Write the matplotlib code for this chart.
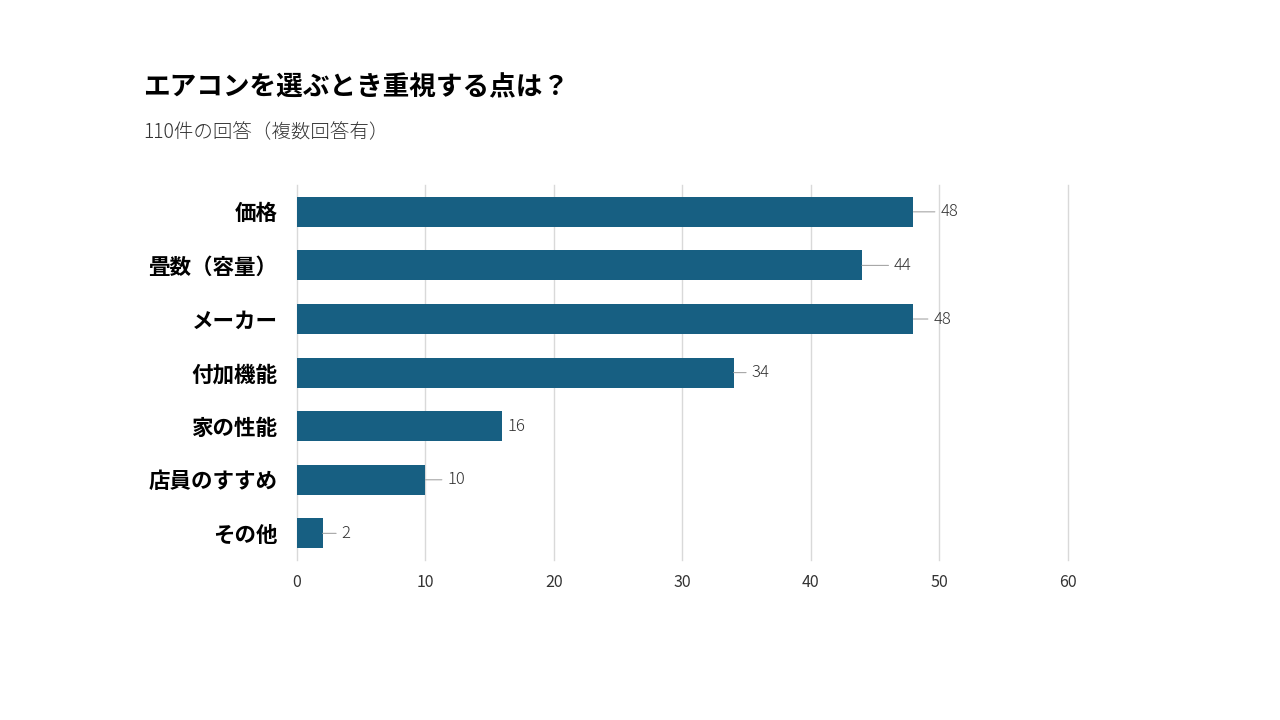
import matplotlib
matplotlib.use("Agg")
import matplotlib.pyplot as plt

plt.rcParams['font.family'] = ['Noto Sans CJK JP', 'DejaVu Sans']

categories = ["価格", "畳数（容量）", "メーカー", "付加機能", "家の性能", "店員のすすめ", "その他"]
values = [48, 44, 48, 34, 16, 10, 2]
xticks = [0, 10, 20, 30, 40, 50, 60]
# label offsets (pixels) from bar end, matching manually placed labels
label_offsets = [27, 32, 20, 18, 5, 22, 19]

title = "エアコンを選ぶとき重視する点は？"
subtitle = "110件の回答（複数回答有）"

bar_color = "#175F82"

fig = plt.figure(figsize=(12.8, 7.2), dpi=100)
ax = fig.add_axes([0.232, 0.222, 0.602, 0.521])

y = list(range(len(categories)))
ax.barh(y, values, height=0.56, color=bar_color, zorder=3)
ax.set_ylim(len(categories) - 0.5, -0.5)
ax.set_xlim(0, 60)
ax.set_xticks(xticks)
ax.set_xticklabels([str(t) for t in xticks], fontsize=11.5, color="#333333")
ax.set_yticks(y)
ax.set_yticklabels(categories, fontsize=15.5, fontweight="bold", color="#000000")
ax.tick_params(axis="y", length=0, pad=14)
ax.tick_params(axis="x", length=0, pad=10)
ax.grid(axis="x", color="#D9D9D9", linewidth=1, zorder=0)
for gl in ax.get_xgridlines():
    gl.set_clip_on(False)
for s in ax.spines.values():
    s.set_visible(False)

for yi, v, off in zip(y, values, label_offsets):
    ax.annotate(str(v), xy=(v, yi), xytext=(off, 0), textcoords="offset pixels",
                ha="left", va="center", fontsize=12, color="#333333", fontweight="light",
                arrowprops=dict(arrowstyle="-", color="#A6A6A6", lw=0.8,
                                shrinkA=2, shrinkB=0) if off > 8 else None)

fig.text(143 / 1280, 1 - 88 / 720, title, fontsize=19.2, fontweight="bold",
         ha="left", va="center", color="#000000")
fig.text(143 / 1280, 1 - 133 / 720, subtitle, fontsize=14, fontweight="light",
         ha="left", va="center", color="#333333")

fig.savefig("out.png", dpi=100)
